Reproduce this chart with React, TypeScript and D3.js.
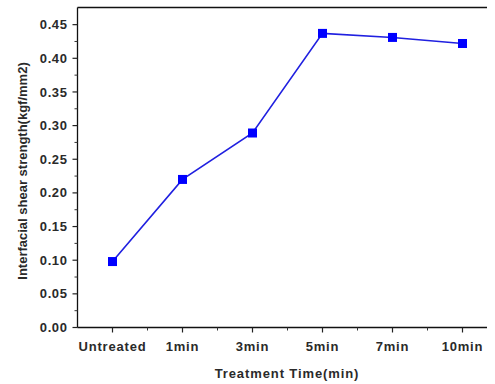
import React, { useEffect, useRef } from 'react';
import * as d3 from 'd3';

const categories = ['Untreated', '1min', '3min', '5min', '7min', '10min'];
const strength = [0.098, 0.22, 0.289, 0.437, 0.431, 0.422];
const yTicks = [0, 0.05, 0.1, 0.15, 0.2, 0.25, 0.3, 0.35, 0.4, 0.45];

const App = () => {
  const ref = useRef<SVGSVGElement>(null);

  useEffect(() => {
    const svg = d3.select(ref.current);
    svg.selectAll('*').remove();

    const left = 77.5,
      top = 7.5,
      bottom = 327.5,
      right = 487;
    const font = 'Arial, "Liberation Sans", sans-serif';

    // category index -> pixel, half a step of padding each side
    const x = d3.scaleLinear().domain([-0.5, 5.5]).range([left, left + 420]);
    const y = d3.scaleLinear().domain([0, 0.45]).range([bottom, bottom - 9 * 33.65]);

    const g = svg.append('g');

    // frame: left, bottom and top lines
    g.append('line').attr('x1', left).attr('x2', left).attr('y1', top).attr('y2', bottom)
      .attr('stroke', '#111').attr('stroke-width', 1.3);
    g.append('line').attr('x1', left).attr('x2', right).attr('y1', bottom).attr('y2', bottom)
      .attr('stroke', '#111').attr('stroke-width', 1.3);
    g.append('line').attr('x1', left).attr('x2', right).attr('y1', top).attr('y2', top)
      .attr('stroke', '#111').attr('stroke-width', 1.6);

    // y ticks
    const minorY = d3.range(0.025, 0.475, 0.05);
    g.selectAll('line.ymin').data(minorY).enter().append('line')
      .attr('x1', left - 3).attr('x2', left)
      .attr('y1', d => y(d)).attr('y2', d => y(d))
      .attr('stroke', '#333');
    g.selectAll('line.ymaj').data(yTicks).enter().append('line')
      .attr('x1', left - 5).attr('x2', left)
      .attr('y1', d => y(d)).attr('y2', d => y(d))
      .attr('stroke', '#222').attr('stroke-width', 1.2);
    g.selectAll('text.ylab').data(yTicks).enter().append('text')
      .attr('x', left - 10).attr('y', d => y(d)).attr('dy', '0.35em')
      .attr('text-anchor', 'end')
      .style('font-family', font).style('font-size', '13px').style('font-weight', 'bold')
      .style('letter-spacing', '0.6px')
      .attr('fill', '#2a2a2a')
      .text(d => d.toFixed(2));

    // x ticks
    const idx = d3.range(categories.length);
    g.selectAll('line.xmin').data(idx.slice(0, -1)).enter().append('line')
      .attr('x1', d => x(d + 0.5)).attr('x2', d => x(d + 0.5))
      .attr('y1', bottom).attr('y2', bottom + 3)
      .attr('stroke', '#333');
    g.selectAll('line.xmaj').data(idx).enter().append('line')
      .attr('x1', d => x(d)).attr('x2', d => x(d))
      .attr('y1', bottom).attr('y2', bottom + 5)
      .attr('stroke', '#222').attr('stroke-width', 1.2);
    g.selectAll('text.xlab').data(categories).enter().append('text')
      .attr('x', (d, i) => x(i)).attr('y', bottom + 23)
      .attr('text-anchor', 'middle')
      .style('font-family', font).style('font-size', '13px').style('font-weight', 'bold')
      .style('letter-spacing', '0.8px')
      .attr('fill', '#2a2a2a')
      .text(d => d);

    // axis titles
    g.append('text')
      .attr('transform', `translate(22,${171}) rotate(-90)`)
      .attr('dy', '0.35em')
      .attr('text-anchor', 'middle')
      .style('font-family', font).style('font-size', '13px').style('font-weight', 'bold')
      .attr('fill', '#2a2a2a')
      .text('Interfacial shear strength(kgf/mm2)');
    g.append('text')
      .attr('x', 287).attr('y', 378)
      .attr('text-anchor', 'middle')
      .style('font-family', font).style('font-size', '13px').style('font-weight', 'bold')
      .style('letter-spacing', '0.9px')
      .attr('fill', '#2a2a2a')
      .text('Treatment Time(min)');

    // series
    const line = d3.line<number>().x((d, i) => x(i)).y(d => y(d));
    g.append('path').datum(strength)
      .attr('d', line)
      .attr('fill', 'none')
      .attr('stroke', '#2020e0')
      .attr('stroke-width', 1.6);
    g.selectAll('rect.pt').data(strength).enter().append('rect')
      .attr('x', (d, i) => x(i) - 4.5).attr('y', d => y(d) - 4.5)
      .attr('width', 9).attr('height', 9)
      .attr('fill', '#0000ff');
  });

  return (
    <svg
      ref={ref}
      width={495}
      height={384}
      style={{ position: 'absolute', left: 0, top: 0, background: '#fff' }}
    />
  );
};

export default App;
